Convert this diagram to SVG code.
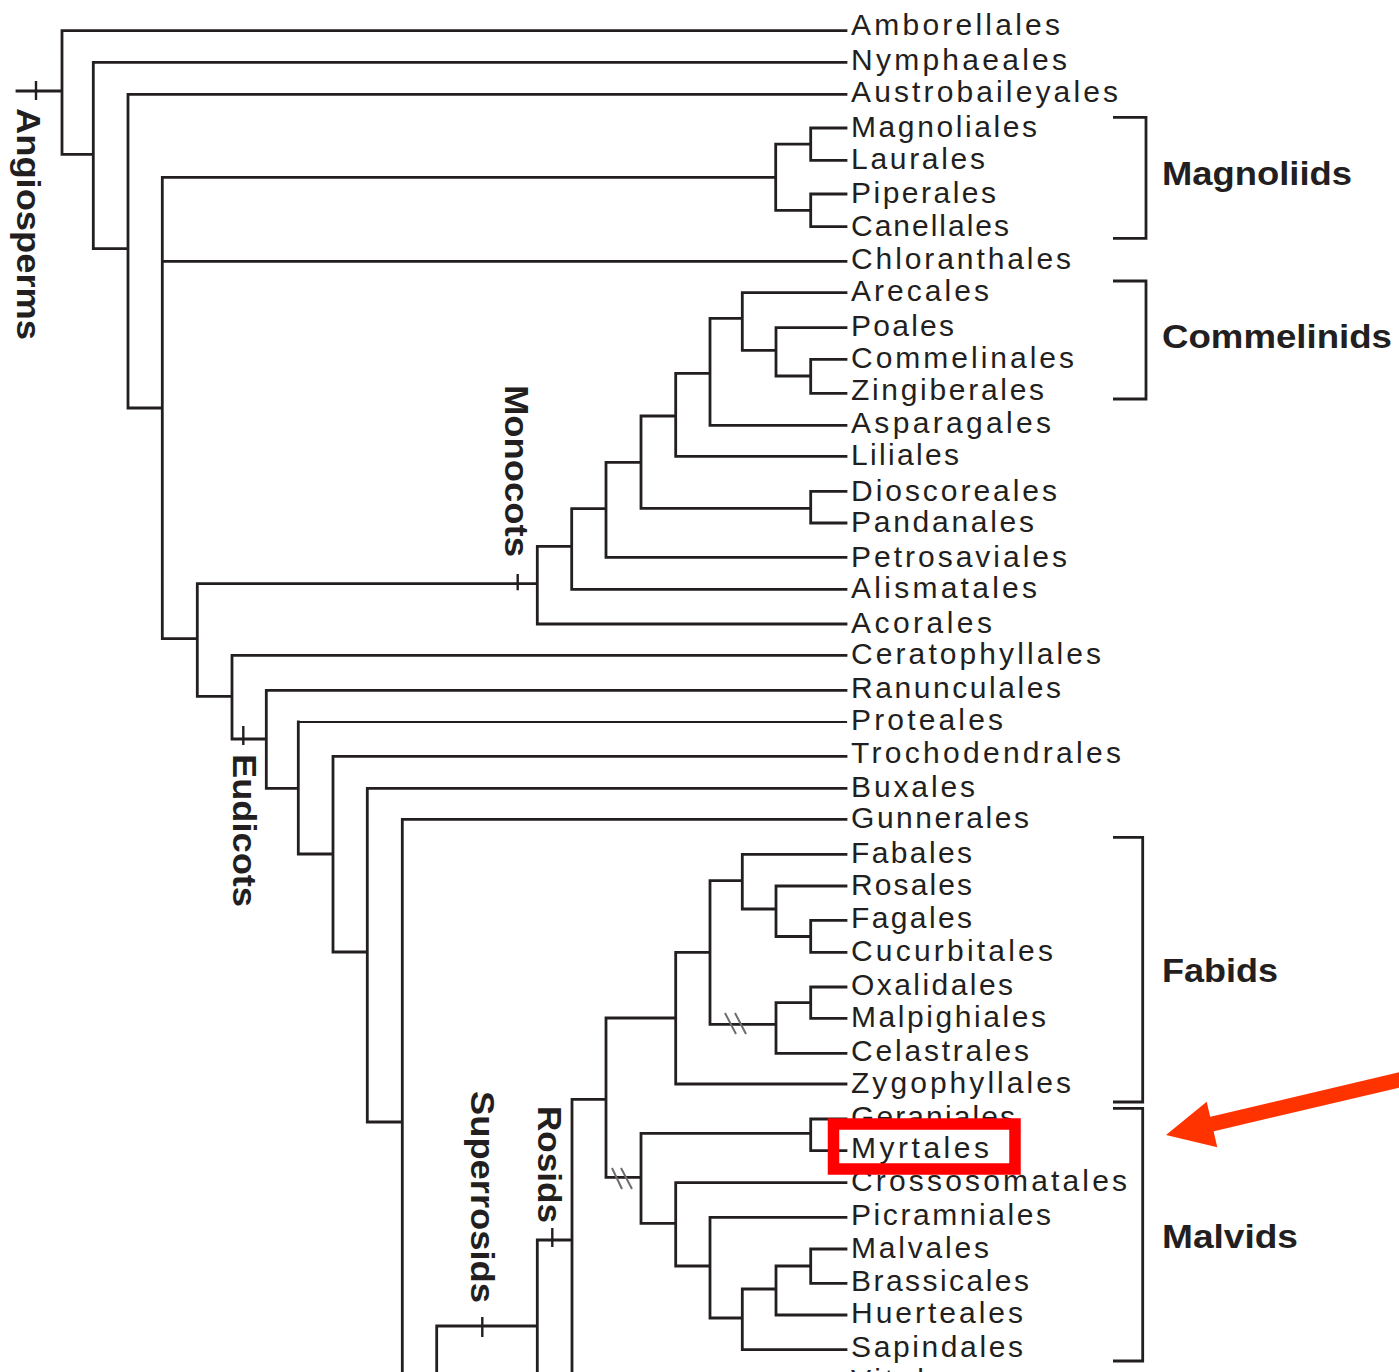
<svg xmlns="http://www.w3.org/2000/svg" width="1399" height="1372" viewBox="0 0 1399 1372">
<defs>
<style>
.leaf{font-family:"Liberation Sans",Arial,sans-serif;font-size:30px;fill:#231f20;}
.clade{font-family:"Liberation Sans",Arial,sans-serif;font-size:34px;font-weight:bold;fill:#231f20;}
.tree{fill:none;stroke:#231f20;stroke-width:2.8;stroke-linecap:square;stroke-linejoin:miter;}
.tick{fill:none;stroke:#231f20;stroke-width:2.4;}
.brk{fill:none;stroke:#6d6d6d;stroke-width:2;}
.brace{fill:none;stroke:#231f20;stroke-width:2.8;}
</style>
</defs>
<rect width="1399" height="1372" fill="#ffffff"/>

<g id="labels">
<g id="n-amborellales"><text class="leaf" x="851" y="35" textLength="209" lengthAdjust="spacing">Amborellales</text></g>
<g id="n-nymphaeales"><text class="leaf" x="851" y="70" textLength="216" lengthAdjust="spacing">Nymphaeales</text></g>
<g id="n-austrobaileyales"><text class="leaf" x="851" y="102" textLength="267" lengthAdjust="spacing">Austrobaileyales</text></g>
<g id="n-magnoliales"><text class="leaf" x="851" y="137" textLength="186" lengthAdjust="spacing">Magnoliales</text></g>
<g id="n-laurales"><text class="leaf" x="851" y="169" textLength="134" lengthAdjust="spacing">Laurales</text></g>
<g id="n-piperales"><text class="leaf" x="851" y="203" textLength="145" lengthAdjust="spacing">Piperales</text></g>
<g id="n-canellales"><text class="leaf" x="851" y="236" textLength="158" lengthAdjust="spacing">Canellales</text></g>
<g id="n-chloranthales"><text class="leaf" x="851" y="269" textLength="220" lengthAdjust="spacing">Chloranthales</text></g>
<g id="n-arecales"><text class="leaf" x="851" y="301" textLength="138" lengthAdjust="spacing">Arecales</text></g>
<g id="n-poales"><text class="leaf" x="851" y="336" textLength="103" lengthAdjust="spacing">Poales</text></g>
<g id="n-commelinales"><text class="leaf" x="851" y="368" textLength="223" lengthAdjust="spacing">Commelinales</text></g>
<g id="n-zingiberales"><text class="leaf" x="851" y="400" textLength="193" lengthAdjust="spacing">Zingiberales</text></g>
<g id="n-asparagales"><text class="leaf" x="851" y="433" textLength="200" lengthAdjust="spacing">Asparagales</text></g>
<g id="n-liliales"><text class="leaf" x="851" y="465" textLength="108" lengthAdjust="spacing">Liliales</text></g>
<g id="n-dioscoreales"><text class="leaf" x="851" y="501" textLength="206" lengthAdjust="spacing">Dioscoreales</text></g>
<g id="n-pandanales"><text class="leaf" x="851" y="532" textLength="183" lengthAdjust="spacing">Pandanales</text></g>
<g id="n-petrosaviales"><text class="leaf" x="851" y="567" textLength="216" lengthAdjust="spacing">Petrosaviales</text></g>
<g id="n-alismatales"><text class="leaf" x="851" y="598" textLength="186" lengthAdjust="spacing">Alismatales</text></g>
<g id="n-acorales"><text class="leaf" x="851" y="633" textLength="141" lengthAdjust="spacing">Acorales</text></g>
<g id="n-ceratophyllales"><text class="leaf" x="851" y="664" textLength="250" lengthAdjust="spacing">Ceratophyllales</text></g>
<g id="n-ranunculales"><text class="leaf" x="851" y="698" textLength="210" lengthAdjust="spacing">Ranunculales</text></g>
<g id="n-proteales"><text class="leaf" x="851" y="730" textLength="152" lengthAdjust="spacing">Proteales</text></g>
<g id="n-trochodendrales"><text class="leaf" x="851" y="763" textLength="270" lengthAdjust="spacing">Trochodendrales</text></g>
<g id="n-buxales"><text class="leaf" x="851" y="797" textLength="124" lengthAdjust="spacing">Buxales</text></g>
<g id="n-gunnerales"><text class="leaf" x="851" y="828" textLength="178" lengthAdjust="spacing">Gunnerales</text></g>
<g id="n-fabales"><text class="leaf" x="851" y="863" textLength="121" lengthAdjust="spacing">Fabales</text></g>
<g id="n-rosales"><text class="leaf" x="851" y="895" textLength="121" lengthAdjust="spacing">Rosales</text></g>
<g id="n-fagales"><text class="leaf" x="851" y="928" textLength="121" lengthAdjust="spacing">Fagales</text></g>
<g id="n-cucurbitales"><text class="leaf" x="851" y="961" textLength="202" lengthAdjust="spacing">Cucurbitales</text></g>
<g id="n-oxalidales"><text class="leaf" x="851" y="995" textLength="162" lengthAdjust="spacing">Oxalidales</text></g>
<g id="n-malpighiales"><text class="leaf" x="851" y="1027" textLength="195" lengthAdjust="spacing">Malpighiales</text></g>
<g id="n-celastrales"><text class="leaf" x="851" y="1061" textLength="178" lengthAdjust="spacing">Celastrales</text></g>
<g id="n-zygophyllales"><text class="leaf" x="851" y="1093" textLength="220" lengthAdjust="spacing">Zygophyllales</text></g>
<g id="n-geraniales"><text class="leaf" x="851" y="1127" textLength="164" lengthAdjust="spacing">Geraniales</text></g>
<g id="n-crossosomatales"><text class="leaf" x="851" y="1191" textLength="276" lengthAdjust="spacing">Crossosomatales</text></g>
<g id="n-picramniales"><text class="leaf" x="851" y="1225" textLength="200" lengthAdjust="spacing">Picramniales</text></g>
<g id="n-malvales"><text class="leaf" x="851" y="1258" textLength="138" lengthAdjust="spacing">Malvales</text></g>
<g id="n-brassicales"><text class="leaf" x="851" y="1291" textLength="178" lengthAdjust="spacing">Brassicales</text></g>
<g id="n-huerteales"><text class="leaf" x="851" y="1323" textLength="172" lengthAdjust="spacing">Huerteales</text></g>
<g id="n-sapindales"><text class="leaf" x="851" y="1357" textLength="172" lengthAdjust="spacing">Sapindales</text></g>
<g id="n-vitales"><text class="leaf" x="851" y="1390" textLength="112" lengthAdjust="spacing">Vitales</text></g>
</g>

<g id="clade-labels">
<g id="c-angiosperms"><text class="clade" transform="translate(17,108) rotate(90)" textLength="232" lengthAdjust="spacingAndGlyphs">Angiosperms</text></g>
<g id="c-monocots"><text class="clade" transform="translate(505,385) rotate(90)" textLength="172" lengthAdjust="spacingAndGlyphs">Monocots</text></g>
<g id="c-eudicots"><text class="clade" transform="translate(233,754) rotate(90)" textLength="153" lengthAdjust="spacingAndGlyphs">Eudicots</text></g>
<g id="c-superrosids"><text class="clade" transform="translate(471,1091) rotate(90)" textLength="212" lengthAdjust="spacingAndGlyphs">Superrosids</text></g>
<g id="c-rosids"><text class="clade" transform="translate(538,1106) rotate(90)" textLength="117" lengthAdjust="spacingAndGlyphs">Rosids</text></g>
<g id="c-magnoliids"><text class="clade" x="1162" y="185" textLength="190" lengthAdjust="spacingAndGlyphs">Magnoliids</text></g>
<g id="c-commelinids"><text class="clade" x="1162" y="348" textLength="230" lengthAdjust="spacingAndGlyphs">Commelinids</text></g>
<g id="c-fabids"><text class="clade" x="1162" y="982" textLength="116" lengthAdjust="spacingAndGlyphs">Fabids</text></g>
<g id="c-malvids"><text class="clade" x="1162" y="1248" textLength="136" lengthAdjust="spacingAndGlyphs">Malvids</text></g>
</g>

<g id="highlight-bg"><rect x="833.5" y="1124" width="181.5" height="45" fill="#ffffff"/></g>

<g id="connectors">
<path class="tree" d="M17,91 H62 M62,30.7 V154.3 M62,30.7 H846 M62,154.3 H93.3
M93.3,62.3 V248.7 M93.3,62.3 H846 M93.3,248.7 H128
M128,94.3 V408 M128,94.3 H846 M128,408 H162.3
M162.3,177.3 V638.7 M162.3,177.3 H775.7 M162.3,261.3 H846 M162.3,638.7 H197.3
M775.7,144.2 V210.3 M775.7,144.2 H810.7 M775.7,210.3 H810.7
M810.7,128 V160.3 M810.7,128 H846 M810.7,160.3 H846
M810.7,194 V226.7 M810.7,194 H846 M810.7,226.7 H846
M197.3,583.7 V696.3 M197.3,583.7 H537.3 M197.3,696.3 H232
M537.3,546.3 V624 M537.3,624 H846 M537.3,546.3 H571.7
M571.7,508.7 V589.3 M571.7,589.3 H846 M571.7,508.7 H606
M606,462.3 V557.3 M606,557.3 H846 M606,462.3 H641
M641,416 V508.3 M641,508.3 H810.7 M641,416 H675.7
M810.7,491.3 V523 M810.7,491.3 H846 M810.7,523 H846
M675.7,373.3 V456.3 M675.7,456.3 H846 M675.7,373.3 H710
M710,318.3 V425.3 M710,425.3 H846 M710,318.3 H742.3
M742.3,292.7 V350.3 M742.3,292.7 H846 M742.3,350.3 H776
M776,327.7 V376 M776,327.7 H846 M776,376 H810.7
M810.7,359.3 V393.3 M810.7,359.3 H846 M810.7,393.3 H846
M232,655.3 V739 M232,655.3 H846 M232,739 H266.3
M266.3,690.3 V788.3 M266.3,690.3 H846 M266.3,788.3 H298.3
M298.3,722 V854 M298.3,854 H333
M333,756.3 V952 M333,756.3 H846 M333,952 H367.3
M367.3,788.3 V1122 M367.3,788.3 H846 M367.3,1122 H402.3
M402.3,819.3 V1390 M402.3,819.3 H846
M436.7,1326 V1390 M436.7,1326 H537.3
M537.3,1240 V1390 M537.3,1240 H572
M572,1099.3 V1390 M572,1099.3 H606
M606,1018 V1177.3 M606,1018 H675.7 M606,1177.3 H641
M675.7,952.3 V1084 M675.7,952.3 H710 M675.7,1084 H846
M710,880.7 V1024.3 M710,880.7 H742.3 M710,1024.3 H776
M742.3,854.3 V909 M742.3,854.3 H846 M742.3,909 H776
M776,886 V936.5 M776,886 H846 M776,936.5 H810.7
M810.7,920.3 V952.3 M810.7,920.3 H846 M810.7,952.3 H846
M776,1002.7 V1053.3 M776,1053.3 H846 M776,1002.7 H810.7
M810.7,987 V1018.3 M810.7,987 H846 M810.7,1018.3 H846
M641,1133.3 V1223.3 M641,1133.3 H810.7 M641,1223.3 H675.7
M810.7,1119 V1150.7 M810.7,1119 H846 M810.7,1150.7 H846
M675.7,1182.7 V1266 M675.7,1182.7 H846 M675.7,1266 H710
M710,1217.3 V1318 M710,1217.3 H846 M710,1318 H742.3
M742.3,1289 V1349.7 M742.3,1349.7 H846 M742.3,1289 H776
M776,1266 V1315 M776,1315 H846 M776,1266 H810.7
M810.7,1249 V1283.3 M810.7,1249 H846 M810.7,1283.3 H846"/>
<path class="tree" style="stroke-width:2.2" d="M298.3,722 H846"/>
<path class="tick" d="M36,81 V100 M517.7,574 V590.3 M243.3,726 V745 M482.3,1317 V1337 M552.3,1228 V1247"/>
<path class="brk" d="M725,1013 L736,1034 M735,1013 L746,1034 M612,1168 L622,1189 M621,1168 L632,1189"/>
<path class="brace" d="M1113,117.3 H1146 V238.3 H1113 M1113,281 H1146 V399 H1113 M1113,837.3 H1142.7 V1102 H1113 M1113,1108.3 H1142.7 V1361 H1113"/>
</g>

<g id="n-myrtales"><text class="leaf" x="851" y="1158" textLength="138" lengthAdjust="spacing">Myrtales</text></g>

<g id="highlight"><rect x="833.5" y="1124" width="181.5" height="45" fill="none" stroke="#ff0000" stroke-width="11.5"/></g>

<g id="arrow">
<line x1="1420" y1="1075" x2="1208" y2="1125" stroke="#ff3300" stroke-width="15"/>
<polygon points="1166,1135 1206.7,1101.7 1217.3,1147.3" fill="#ff3300"/>
</g>
</svg>
